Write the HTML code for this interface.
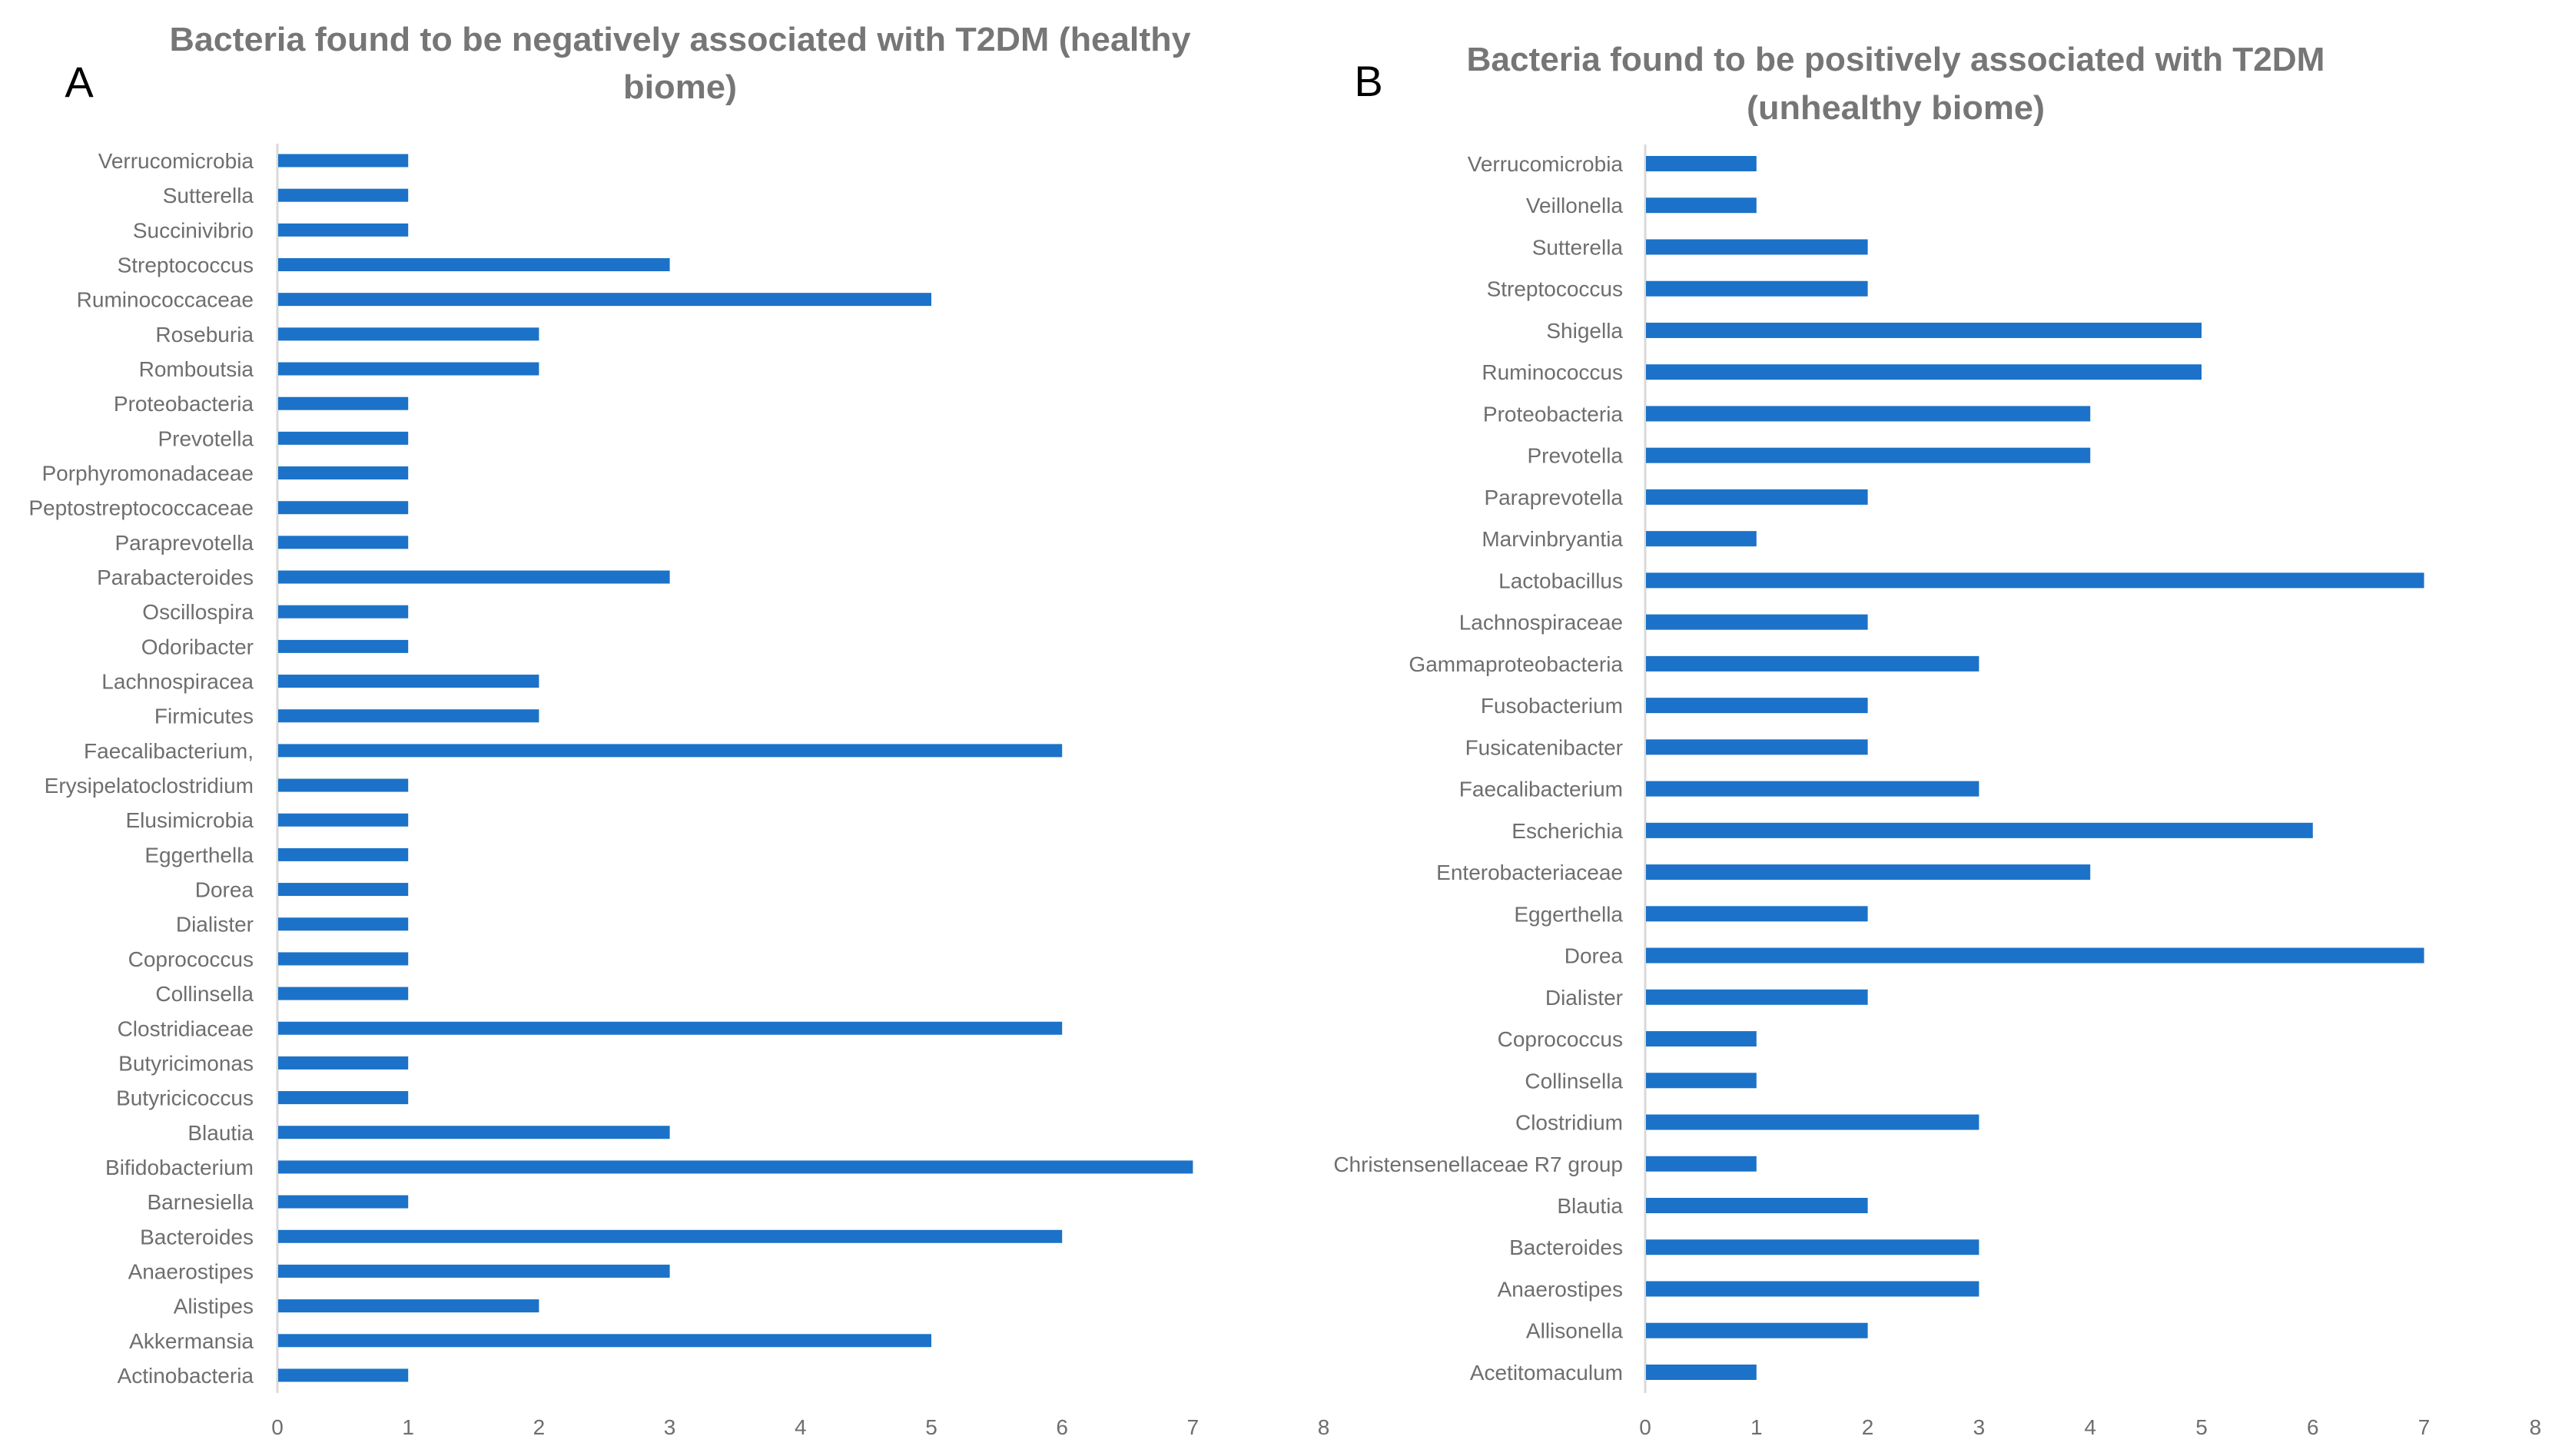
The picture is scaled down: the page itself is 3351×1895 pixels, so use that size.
<!DOCTYPE html>
<html><head><meta charset="utf-8"><style>
html,body{margin:0;padding:0;background:#fff;}
svg{display:block;font-family:"Liberation Sans",sans-serif;}
</style></head><body>
<svg id="c" width="3351" height="1895" viewBox="0 0 3351 1895">
<rect width="3351" height="1895" fill="#fff"/>
<text x="103" y="126" font-size="56" fill="#000" text-anchor="middle">A</text>
<text x="885" y="66" font-size="44" font-weight="bold" fill="#767676" text-anchor="middle" textLength="1329" lengthAdjust="spacingAndGlyphs">Bacteria found to be negatively  associated with T2DM (healthy</text>
<text x="885" y="128" font-size="44" font-weight="bold" fill="#767676" text-anchor="middle" textLength="148" lengthAdjust="spacingAndGlyphs">biome)</text>
<text x="1781" y="125" font-size="56" fill="#000" text-anchor="middle">B</text>
<text x="2467" y="92" font-size="44" font-weight="bold" fill="#767676" text-anchor="middle" textLength="1117" lengthAdjust="spacingAndGlyphs">Bacteria found to be positively associated with T2DM</text>
<text x="2467" y="155" font-size="44" font-weight="bold" fill="#767676" text-anchor="middle" textLength="388" lengthAdjust="spacingAndGlyphs">(unhealthy biome)</text>
<g id="ga"></g>
<g id="gb"></g>
</svg>
<script>
const catsA = ["Verrucomicrobia","Sutterella","Succinivibrio","Streptococcus","Ruminococcaceae","Roseburia","Romboutsia","Proteobacteria","Prevotella","Porphyromonadaceae","Peptostreptococcaceae","Paraprevotella","Parabacteroides","Oscillospira","Odoribacter","Lachnospiracea","Firmicutes","Faecalibacterium,","Erysipelatoclostridium","Elusimicrobia","Eggerthella","Dorea","Dialister","Coprococcus","Collinsella","Clostridiaceae","Butyricimonas","Butyricicoccus","Blautia","Bifidobacterium","Barnesiella","Bacteroides","Anaerostipes","Alistipes","Akkermansia","Actinobacteria"];
const valsA = [1,1,1,3,5,2,2,1,1,1,1,1,3,1,1,2,2,6,1,1,1,1,1,1,1,6,1,1,3,7,1,6,3,2,5,1];
const catsB = ["Verrucomicrobia","Veillonella","Sutterella","Streptococcus","Shigella","Ruminococcus","Proteobacteria","Prevotella","Paraprevotella","Marvinbryantia","Lactobacillus","Lachnospiraceae","Gammaproteobacteria","Fusobacterium","Fusicatenibacter","Faecalibacterium","Escherichia","Enterobacteriaceae","Eggerthella","Dorea","Dialister","Coprococcus","Collinsella","Clostridium","Christensenellaceae R7 group","Blautia","Bacteroides","Anaerostipes","Allisonella","Acetitomaculum"];
const valsB = [1,1,2,2,5,5,4,4,2,1,7,2,3,2,2,3,6,4,2,7,2,1,1,3,1,2,3,3,2,1];
const ticks = [0,1,2,3,4,5,6,7,8];
const NS = "http://www.w3.org/2000/svg";
function mk(tag, attrs, parent){const e=document.createElementNS(NS,tag);for(const k in attrs)e.setAttribute(k,attrs[k]);parent.appendChild(e);return e;}
function draw(g, cats, vals, o, pre){
  const xs = v => o.x0 + v*o.unit;
  const ys = i => o.yTop + i*o.step;
  const ax = mk("line",{x1:o.x0,x2:o.x0,y1:o.axTop,y2:o.axBot,stroke:"#d9d9d9","stroke-width":3},g);
  
  
  cats.forEach((c,i)=>{
    const y=ys(i);
    const r=mk("rect",{x:o.x0+1,y:y-o.bh/2,width:xs(vals[i])-o.x0-1,height:o.bh,fill:"#1b72c8"},g);
    
    
    const t=mk("text",{x:o.lx,y:y+10,"font-size":28,fill:"#6e6e6e","text-anchor":"end"},g);
    t.textContent=c;
    
    
  });
  ticks.forEach(v=>{
    const t=mk("text",{x:xs(v),y:1867,"font-size":28,fill:"#6e6e6e","text-anchor":"middle"},g);
    t.textContent=v;
    
    
  });
}
draw(document.getElementById("ga"),catsA,valsA,{x0:361,unit:170.2,yTop:209,step:45.17,bh:17,axTop:187,axBot:1813,lx:330},"a");
draw(document.getElementById("gb"),catsB,valsB,{x0:2141,unit:144.8,yTop:213,step:54.24,bh:20,axTop:188,axBot:1813,lx:2112},"b");
</script>
</body></html>
